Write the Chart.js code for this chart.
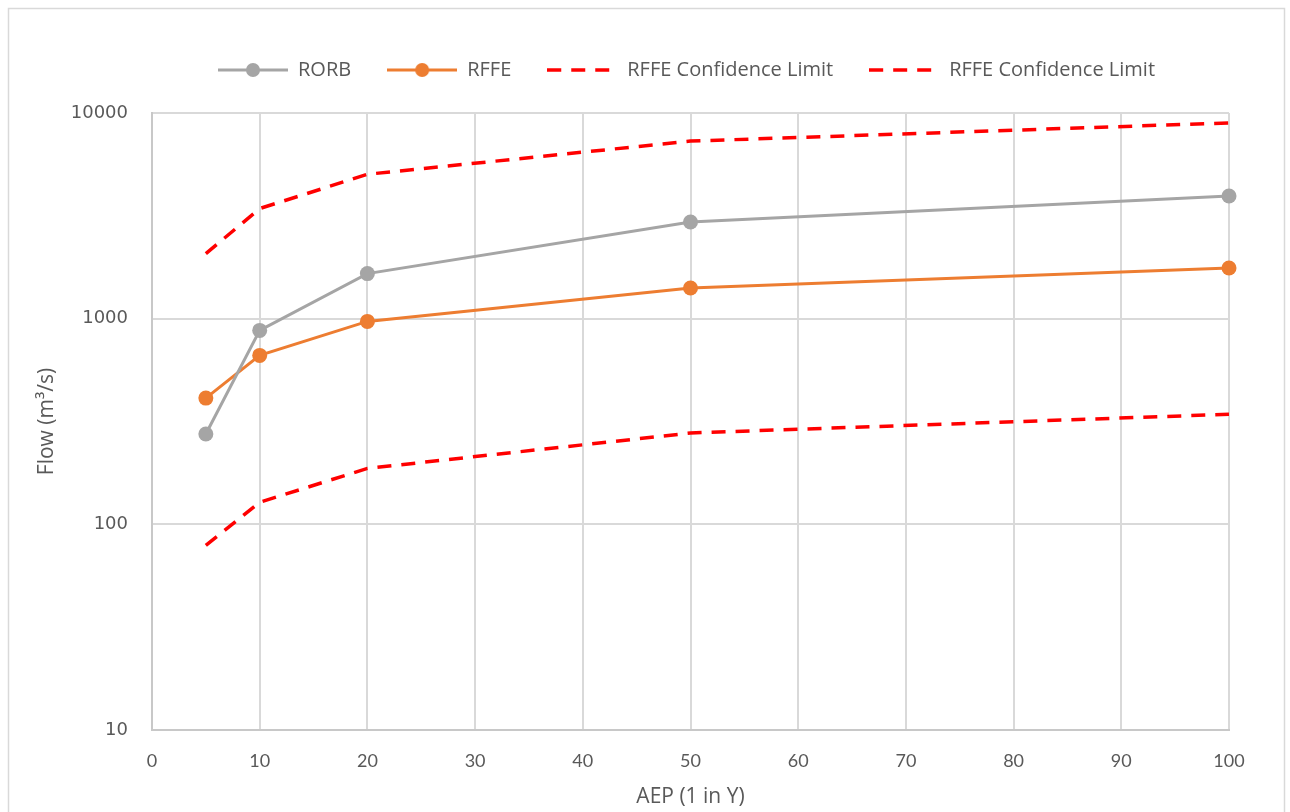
<!DOCTYPE html>
<html>
<head>
<meta charset="utf-8">
<script src="https://cdn.jsdelivr.net/npm/chart.js@4.4.1/dist/chart.umd.min.js"></script>
<style>
  html, body { margin: 0; padding: 0; background: #ffffff; }
  #wrap { width: 1290px; height: 812px; position: relative; }
</style>
</head>
<body>
<div id="wrap"><canvas id="c" width="1290" height="812"></canvas></div>
<script>
// ---- data ----
const aep = [5, 10, 20, 50, 100];
const rorb = [275, 877, 1656, 2950, 3950];
const rffe = [411, 663, 970, 1409, 1763];
const rffeUpper = [2071, 3430, 5036, 7300, 8950];
const rffeLower = [79, 128, 187, 278, 343];
const yTickValues = [10, 100, 1000, 10000];
const seriesNames = ['RORB', 'RFFE', 'RFFE Confidence Limit', 'RFFE Confidence Limit'];

const GRAY = '#A5A5A5', ORANGE = '#ED7D31', RED = '#FF0000', TEXT = '#595959';
const DASH = [14, 10];

function pts(ys) { return aep.map((x, i) => ({ x: x, y: ys[i] })); }

function swatch(color, marker, dashed) {
  const c = document.createElement('canvas');
  c.width = 70; c.height = 16;
  const g = c.getContext('2d');
  g.strokeStyle = color;
  g.lineWidth = dashed ? 3.5 : 3;
  if (dashed) g.setLineDash(DASH);
  g.beginPath(); g.moveTo(0, 8); g.lineTo(70, 8); g.stroke();
  if (marker) {
    g.setLineDash([]);
    g.fillStyle = color;
    g.beginPath(); g.arc(35, 8, 7, 0, Math.PI * 2); g.fill();
  }
  return c;
}
const swatches = [swatch(GRAY, true, false), swatch(ORANGE, true, false), swatch(RED, false, true), swatch(RED, false, true)];

const frame = {
  id: 'frame',
  beforeInit(chart) {
    const lg = chart.legend;
    if (lg) {
      const f = lg.fit.bind(lg);
      lg.fit = function () { f(); this.height = 89; };
    }
  },
  afterLayout(chart) {
    const lg = chart.legend;
    if (lg) { lg.left = chart.chartArea.left - 4; lg.right = chart.chartArea.right - 4; }
  },
  beforeDraw(chart) {
    const ctx = chart.ctx;
    ctx.save();
    ctx.fillStyle = '#ffffff';
    ctx.fillRect(0, 0, chart.width, chart.height);
    ctx.strokeStyle = '#d9d9d9';
    ctx.lineWidth = 1.5;
    ctx.strokeRect(8.5, 8.5, 1276, 830);
    ctx.restore();
  }
};

new Chart(document.getElementById('c'), {
  type: 'line',
  data: {
    datasets: [
      { label: seriesNames[0], data: pts(rorb), borderColor: GRAY, backgroundColor: GRAY, borderWidth: 3, pointRadius: 7.5, pointHoverRadius: 7.5, pointBorderWidth: 0, clip: false },
      { label: seriesNames[1], data: pts(rffe), borderColor: ORANGE, backgroundColor: ORANGE, borderWidth: 3, pointRadius: 7.5, pointHoverRadius: 7.5, pointBorderWidth: 0, clip: false },
      { label: seriesNames[2], data: pts(rffeUpper), borderColor: RED, borderWidth: 3.5, borderDash: DASH, pointRadius: 0, clip: false },
      { label: seriesNames[3], data: pts(rffeLower), borderColor: RED, borderWidth: 3.5, borderDash: DASH, pointRadius: 0, clip: false }
    ]
  },
  options: {
    responsive: false,
    animation: false,
    layout: { padding: { top: 24, right: 61, bottom: 0, left: 0 } },
    plugins: {
      tooltip: { enabled: false },
      legend: {
        position: 'top',
        align: 'center',
        labels: {
          usePointStyle: true,
          pointStyleWidth: 70,
          boxHeight: 16,
          padding: 36,
          color: TEXT,
          font: { family: '"Open Sans", Lato, sans-serif', size: 20 },
          generateLabels(chart) {
            return chart.data.datasets.map((ds, i) => ({
              text: ds.label,
              pointStyle: swatches[i],
              fillStyle: 'rgba(0,0,0,0)',
              strokeStyle: 'rgba(0,0,0,0)',
              lineWidth: 0,
              fontColor: TEXT,
              hidden: false,
              datasetIndex: i
            }));
          }
        }
      }
    },
    scales: {
      x: {
        type: 'linear',
        min: 0, max: 100,
        ticks: { stepSize: 10, color: TEXT, padding: 20, font: { family: 'Lato, "Open Sans", sans-serif', size: 18 } },
        grid: { color: '#d9d9d9', lineWidth: 2, drawTicks: false },
        border: { color: '#c8c8c8', width: 2 },
        title: { display: true, text: 'AEP (1 in Y)', color: TEXT, padding: { top: 2, bottom: 2 }, font: { family: '"Open Sans", Lato, sans-serif', size: 21 } },
        afterFit(s) { s.height = 82; }
      },
      y: {
        type: 'logarithmic',
        min: 10, max: 10000,
        afterBuildTicks(s) { s.ticks = yTickValues.map(v => ({ value: v })); },
        ticks: { color: TEXT, padding: 24, font: { family: '"DejaVu Sans", sans-serif', size: 18 }, callback: v => String(v) },
        grid: { color: '#d9d9d9', lineWidth: 2, drawTicks: false },
        border: { color: '#c8c8c8', width: 2 },
        title: { display: true, text: 'Flow (m³/s)', color: TEXT, padding: { top: 34, bottom: 34 }, font: { family: '"Open Sans", Lato, sans-serif', size: 21 } },
        afterFit(s) { s.width = 152; }
      }
    }
  },
  plugins: [frame]
});
</script>
</body>
</html>
